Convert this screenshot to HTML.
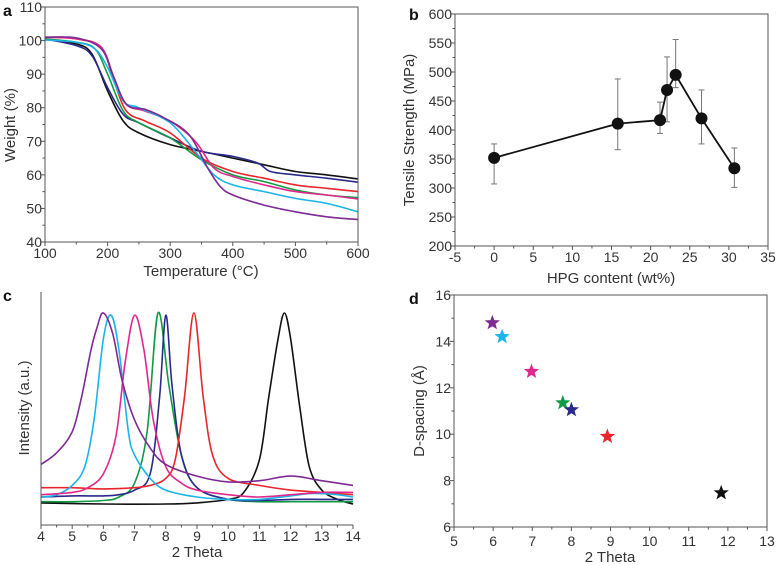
<!DOCTYPE html>
<html><head><meta charset="utf-8">
<style>
html,body{margin:0;padding:0;background:#fff;}
svg{display:block;font-family:"Liberation Sans",Arial,sans-serif;}
.tk{font-size:14px;fill:#333;}
.tt{font-size:15px;fill:#333;}
.pl{font-size:16px;font-weight:bold;fill:#111;}
</style></head>
<body>
<svg id="fig" width="777" height="565" viewBox="0 0 777 565" xmlns="http://www.w3.org/2000/svg"></svg>
<script>
// ---- Panel a data (TGA) ----
const tgaTemps = {
 black:[100,150,175,200,225,250,300,350,400,450,500,550,600],
 navy:[100,150,175,200,225,250,300,350,400,440,460,500,550,600],
 green:[100,150,180,200,225,250,300,350,400,450,500,550,600],
 red:[100,150,190,210,230,260,300,350,400,450,500,550,600],
 magenta:[100,150,190,210,230,260,300,340,370,400,450,500,550,600],
 cyan:[100,150,180,200,225,250,300,340,370,400,450,500,550,600],
 purple:[100,150,190,210,230,260,290,330,360,380,400,450,500,550,600]
};
const tgaWeights = {
 black:[100.5,99,96,85,76,72.5,69,67,65,63,61,60,58.8],
 navy:[100.5,98.5,95.5,86,78,75.5,71,67,65.5,63.5,61,60,59,57.8],
 green:[100.5,99.5,97.5,90,79,75.5,71,64.5,60,58,55.5,54,53.2],
 red:[101,100.5,98,88,79,76,72.5,65,61,59,57,56,55],
 magenta:[101,100.5,98,89,81,79,76,70,62,59.5,57,55,54,52.8],
 cyan:[100.2,99.5,97.5,92,82,80,75.5,67,60,57,55,53,51.5,49],
 purple:[101,100.8,97.5,89,81,79.5,77,72,62,56.5,54,51,49,47.5,46.7]
};
const tgaXTicks=[100,200,300,400,500,600];
const tgaYTicks=[40,50,60,70,80,90,100,110];

// ---- Panel b data (tensile) ----
const hpgContent=[0,15.8,21.2,22.1,23.2,26.5,30.7];
const tensile=[352,411,417,469,495,420,334];
const tensileUpper=[376,488,448,526,556,469,369];
const tensileLower=[307,366,394,414,473,376,301];
const bXTicks=[-5,0,5,10,15,20,25,30,35];
const bYTicks=[200,250,300,350,400,450,500,550,600];

// ---- Panel c data (XRD) ----
const xrdTheta = {
 black:[4,6,8,9,10,10.5,11,11.3,11.6,11.8,12,12.3,12.6,13,13.5,14],
 red:[4,5,6,7,7.5,8,8.3,8.6,8.9,9.2,9.5,10,11,12,13,14],
 navy:[4,5,6,6.5,7,7.5,7.8,8,8.2,8.5,9,10,11,12,13,14],
 green:[4,5,6,6.5,7,7.4,7.75,8.1,8.5,9,10,11,12,13,14],
 magenta:[4,5,5.5,6,6.4,6.7,7,7.3,7.6,8,8.5,9,10,11,12,13,14],
 cyan:[4,4.5,5,5.4,5.7,6,6.25,6.5,6.8,7,7.5,8,9,10,11,12,12.7,13.5,14],
 purple:[4,4.5,5,5.3,5.6,5.8,6,6.3,6.6,7,7.5,8,9,10,11,12,13,14]
};
const xrdIntensity = {
 black:[9.5,9,9,9.5,11,14,28,55,80,91,80,50,25,15,11,9],
 red:[16,16,15.5,16,17,20,28,55,91,55,30,20,17,15,14,13],
 navy:[12,12.5,12.5,13,15,22,55,90,60,30,16,11,10.5,11,11,11],
 green:[10,10,10.5,12,18,40,91,60,30,16,11,10,10,10,10],
 magenta:[13,14,16,22,38,70,90,75,45,25,18,15,13,12,13,14,14],
 cyan:[12,13,17,25,45,80,90,75,40,30,20,15,12,11,11,12.5,13.5,13,12],
 purple:[26,31,40,55,75,85,91,82,62,45,33,26,21,18.5,19,21,19,17]
};
const cXTicks=[4,5,6,7,8,9,10,11,12,13,14];

// ---- Panel d data (D-spacing) ----
const dTheta=[5.98,6.23,6.98,7.78,8.0,8.92,11.83];
const dSpacing=[14.8,14.2,12.7,11.35,11.05,9.9,7.47];
const dSeries=['purple','cyan','magenta','green','navy','red','black'];
const dXTicks=[5,6,7,8,9,10,11,12,13];
const dYTicks=[6,8,10,12,14,16];

const colors={black:'#111',navy:'#2a2a8c',green:'#119a44',red:'#e8262b',magenta:'#e0288c',cyan:'#1bb4e8',purple:'#7d2a92'};
const NS='http://www.w3.org/2000/svg';
const svg=document.getElementById('fig');
function el(tag,attrs,parent){const e=document.createElementNS(NS,tag);for(const k in attrs)e.setAttribute(k,attrs[k]);(parent||svg).appendChild(e);return e;}
function txt(s,attrs,parent){const t=el('text',attrs,parent);t.textContent=s;return t;}
function lin(d0,d1,r0,r1){return v=>r0+(v-d0)/(d1-d0)*(r1-r0);}
function smooth(pts){let d='M'+pts[0][0].toFixed(1)+','+pts[0][1].toFixed(1);
 for(let i=0;i<pts.length-1;i++){const p0=pts[Math.max(0,i-1)],p1=pts[i],p2=pts[i+1],p3=pts[Math.min(pts.length-1,i+2)];
  const c1=[p1[0]+(p2[0]-p0[0])/6,p1[1]+(p2[1]-p0[1])/6],c2=[p2[0]-(p3[0]-p1[0])/6,p2[1]-(p3[1]-p1[1])/6];
  d+='C'+c1[0].toFixed(1)+','+c1[1].toFixed(1)+' '+c2[0].toFixed(1)+','+c2[1].toFixed(1)+' '+p2[0].toFixed(1)+','+p2[1].toFixed(1);}
 return d;}
function frame(g,x0,y0,x1,y1,name){const r=el('rect',{x:x0,y:y0,width:x1-x0,height:y1-y0,fill:'none',stroke:'#555','stroke-width':1},g);
 
 }
function xAxis(g,ticks,sx,yb,labY,minorN){ticks.forEach((t,i)=>{el('line',{x1:sx(t),x2:sx(t),y1:yb,y2:yb+4,stroke:'#555'},g);
  const l=txt(String(t),{x:sx(t),y:labY,'text-anchor':'middle',class:'tk'},g);
  
  
  if(i<ticks.length-1){const m=(t+ticks[i+1])/2;el('line',{x1:sx(m),x2:sx(m),y1:yb,y2:yb+2.5,stroke:'#555'},g);}});}
function yAxis(g,ticks,sy,xl,labX,minor){ticks.forEach((t,i)=>{el('line',{x1:xl-4,x2:xl,y1:sy(t),y2:sy(t),stroke:'#555'},g);
  const l=txt(String(t),{x:labX,y:sy(t)+5,'text-anchor':'end',class:'tk'},g);
  
  
  if(minor&&i<ticks.length-1){const m=(t+ticks[i+1])/2;el('line',{x1:xl-2.5,x2:xl,y1:sy(m),y2:sy(m),stroke:'#555'},g);}});}

// ---- Panel a ----
{const g=el('g',{});
 const sx=lin(100,600,45,358), sy=lin(40,110,242,7);
 for(const k in tgaTemps){const p=el('path',{d:smooth(tgaTemps[k].map((t,i)=>[sx(t),sy(tgaWeights[k][i])])),fill:'none',stroke:colors[k],'stroke-width':1.6},g);
  
  }
 frame(g,45,7,358,242,'panel-a-frame');
 xAxis(g,tgaXTicks,sx,242,258);
 yAxis(g,tgaYTicks,sy,45,42,true);
 const xt=txt('Temperature (°C)',{x:201,y:276,'text-anchor':'middle',class:'tt'},g);
 const yt=txt('Weight (%)',{x:0,y:0,'text-anchor':'middle',class:'tt',transform:'translate(15,125) rotate(-90)'},g);
 const pl=txt('a',{x:3,y:16,class:'pl'},g);}

// ---- Panel b ----
{const g=el('g',{});
 const sx=lin(-5,35,455,768), sy=lin(200,600,246,14);
 hpgContent.forEach((x,i)=>{const e=el('line',{x1:sx(x),x2:sx(x),y1:sy(tensileUpper[i]),y2:sy(tensileLower[i]),stroke:'#777','stroke-width':1},g);
  
  
  [tensileUpper[i],tensileLower[i]].forEach(v=>el('line',{x1:sx(x)-3,x2:sx(x)+3,y1:sy(v),y2:sy(v),stroke:'#777'},g));});
 const ln=el('polyline',{points:hpgContent.map((x,i)=>sx(x)+','+sy(tensile[i])).join(' '),fill:'none',stroke:'#111','stroke-width':1.8},g);
 
 hpgContent.forEach((x,i)=>{const c=el('circle',{cx:sx(x),cy:sy(tensile[i]),r:6,fill:'#111'},g);
  
  });
 frame(g,455,14,768,246,'panel-b-frame');
 xAxis(g,bXTicks,sx,246,262);
 yAxis(g,bYTicks,sy,455,452,true);
 const xt=txt('HPG content (wt%)',{x:611,y:283,'text-anchor':'middle',class:'tt'},g);
 const yt=txt('Tensile Strength (MPa)',{x:0,y:0,'text-anchor':'middle',class:'tt',transform:'translate(414,130) rotate(-90)'},g);
 const pl=txt('b',{x:409,y:20,class:'pl'},g);}

// ---- Panel c ----
{const g=el('g',{});
 const sx=lin(4,14,41,353), sy=lin(0,100,525,292);
 ['black','green','navy','red','cyan','magenta','purple'].forEach(k=>{const p=el('path',{d:smooth(xrdTheta[k].map((t,i)=>[sx(t),sy(xrdIntensity[k][i])])),fill:'none',stroke:colors[k],'stroke-width':1.6},g);
  
  });
 el('line',{x1:41,x2:41,y1:292,y2:525,stroke:'#555'},g);
 el('line',{x1:41,x2:353,y1:525,y2:525,stroke:'#555'},g);
 xAxis(g,cXTicks,sx,525,541);
 const xt=txt('2 Theta',{x:197,y:557,'text-anchor':'middle',class:'tt'},g);
 const yt=txt('Intensity (a.u.)',{x:0,y:0,'text-anchor':'middle',class:'tt',transform:'translate(29,408) rotate(-90)'},g);
 const pl=txt('c',{x:3,y:301,class:'pl'},g);}

// ---- Panel d ----
{const g=el('g',{});
 const sx=lin(5,13,454,767), sy=lin(6,16,527,295);
 function star(cx,cy,R){const pts=[];for(let i=0;i<10;i++){const r=i%2?R*0.42:R;const a=-Math.PI/2+i*Math.PI/5;pts.push((cx+r*Math.cos(a)).toFixed(1)+','+(cy+r*Math.sin(a)).toFixed(1));}return pts.join(' ');}
 dTheta.forEach((x,i)=>{const s=el('polygon',{points:star(sx(x),sy(dSpacing[i]),8),fill:colors[dSeries[i]]},g);
  
  });
 frame(g,454,295,767,527,'panel-d-frame');
 xAxis(g,dXTicks,sx,527,546);
 yAxis(g,dYTicks,sy,454,451,true);
 const xt=txt('2 Theta',{x:610,y:562,'text-anchor':'middle',class:'tt'},g);
 const yt=txt('D-spacing (Å)',{x:0,y:0,'text-anchor':'middle',class:'tt',transform:'translate(424,411) rotate(-90)'},g);
 const pl=txt('d',{x:409,y:304,class:'pl'},g);}
</script>
</body></html>
